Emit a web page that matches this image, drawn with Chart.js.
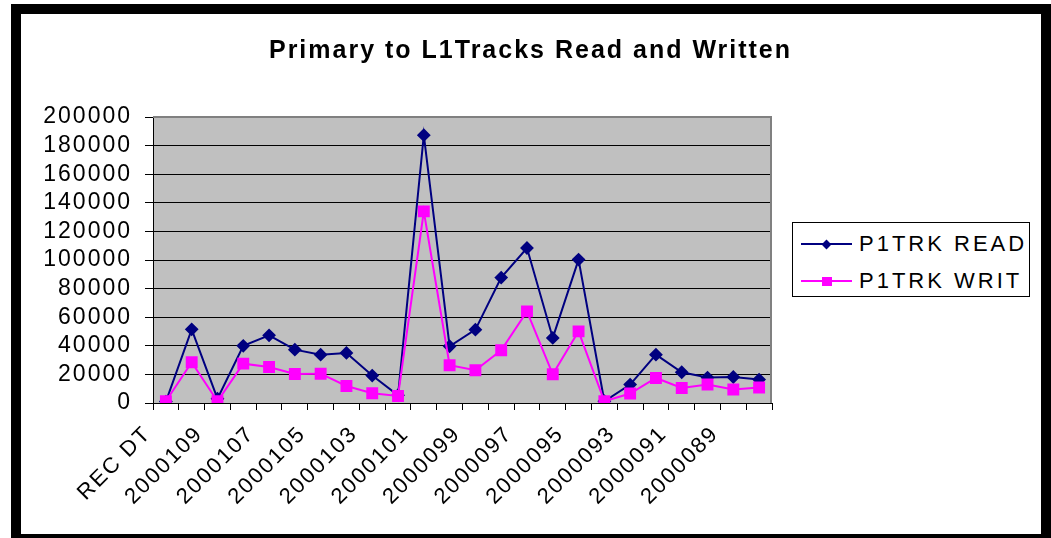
<!DOCTYPE html>
<html>
<head>
<meta charset="utf-8">
<script src="https://cdn.jsdelivr.net/npm/chart.js@4/dist/chart.umd.min.js"></script>
<style>
html, body { margin: 0; padding: 0; background: #fff; }
#wrap { position: relative; width: 1051px; height: 538px; overflow: hidden; }
#frame { position: absolute; left: 11px; top: 4px; width: 1020px; height: 520px; border: 10px solid #000; background: #fff; }
#c { position: absolute; left: 0; top: 0; }
#legend { position: absolute; left: 792px; top: 222px; width: 236px; height: 73px; border: 1px solid #000; background: #fff;
  font-family: 'Liberation Sans', Arial, sans-serif; font-size: 22px; letter-spacing: 3px; color: #000; }
.row { position: absolute; left: 0; width: 100%; height: 0; }
.row .ln { position: absolute; left: 8px; width: 51px; height: 2px; top: -1px; }
.row .mk { position: absolute; }
.row .tx { position: absolute; left: 66px; top: -12px; line-height: 24px; white-space: nowrap; }
</style>
</head>
<body>
<div id="wrap">
  <div id="frame"></div>
  <canvas id="c" width="1051" height="538"></canvas>
  <div id="legend"></div>
</div>
<script>
var labels = ['REC DT', '2000110', '2000109', '2000108', '2000107', '2000106', '2000105', '2000104',
  '2000103', '2000102', '2000101', '2000100', '2000099', '2000098', '2000097', '2000096',
  '2000095', '2000094', '2000093', '2000092', '2000091', '2000090', '2000089', '2000088'];
var read = [1000, 51500, 3000, 40000, 47300, 37300, 33800, 35000, 19200, 5400, 187300, 39700,
  51300, 87700, 108400, 45500, 100300, 1200, 12900, 33800, 21500, 17800, 18200, 16400];
var writ = [1200, 28500, 1200, 27500, 25200, 20300, 20500, 11900, 6800, 4900, 134000, 26400,
  22900, 36900, 64100, 20100, 50100, 1200, 6600, 17500, 10500, 12900, 9400, 10800];

const FONT = "'Liberation Sans', Arial, sans-serif";

// grey plot area, grey top/right edge, wider text like the original
const plotBg = {
    id: 'plotBg',
    beforeUpdate(chart) { chart.ctx.letterSpacing = '2px'; },
    beforeDraw(chart) {
        const ctx = chart.ctx, a = chart.chartArea;
        ctx.letterSpacing = '2px';
        ctx.save();
        ctx.fillStyle = '#c0c0c0';
        ctx.fillRect(a.left, a.top, a.right - a.left, a.bottom - a.top);
        ctx.restore();
    },
    afterDraw(chart) {
        const ctx = chart.ctx, a = chart.chartArea;
        ctx.save();
        ctx.strokeStyle = '#808080';
        ctx.lineWidth = 2;
        ctx.beginPath();
        ctx.moveTo(a.left, a.top);
        ctx.lineTo(a.right - 1, a.top);
        ctx.lineTo(a.right - 1, a.bottom);
        ctx.stroke();
        ctx.restore();
    }
};

const ctx = document.getElementById('c').getContext('2d');
var chart = new Chart(ctx, {
    type: 'line',
    data: {
        labels: labels,
        datasets: [
            {
                label: 'P1TRK READ',
                data: read,
                borderColor: '#000080',
                backgroundColor: '#000080',
                borderWidth: 2,
                pointStyle: 'rectRot',
                pointRadius: 5.5,
                tension: 0,
                order: 1
            },
            {
                label: 'P1TRK WRIT',
                data: writ,
                borderColor: '#ff00ff',
                backgroundColor: '#ff00ff',
                borderWidth: 2,
                pointStyle: 'rect',
                pointRadius: 7,
                tension: 0,
                order: 0
            }
        ]
    },
    options: {
        responsive: false,
        animation: false,
        layout: { padding: { left: 31, right: 21, top: 36, bottom: 13 } },
        plugins: {
            legend: { display: false },
            tooltip: { enabled: false },
            title: {
                display: true,
                text: 'Primary to L1Tracks Read and Written',
                color: '#000',
                font: { family: FONT, size: 25, weight: 'bold' },
                padding: { top: 0, bottom: 51 }
            }
        },
        scales: {
            x: {
                offset: true,
                grid: { offset: true, drawOnChartArea: false, color: '#000', tickLength: 7 },
                border: { display: true, color: '#000', width: 1 },
                ticks: {
                    autoSkip: false,
                    maxRotation: 45,
                    minRotation: 45,
                    labelOffset: -18,
                    padding: 11,
                    color: '#000',
                    font: { family: FONT, size: 22 },
                    callback: function(v, i) { return i % 2 === 0 ? labels[i] : ''; }
                },
                afterFit: function(s) { s.height = 122; }
            },
            y: {
                min: 0,
                max: 200000,
                grid: { color: '#000', lineWidth: 1, tickLength: 8 },
                border: { display: true, color: '#000', width: 1 },
                ticks: {
                    autoSkip: false,
                    stepSize: 20000,
                    padding: 13,
                    color: '#000',
                    font: { family: FONT, size: 23 },
                    callback: function(v) { return String(v); }
                },
                afterFit: function(s) { s.width = 122; }
            },
            // empty right axis: leaves room for the legend
            yRight: {
                position: 'right',
                display: true,
                grid: { display: false },
                border: { display: false },
                ticks: { display: false },
                afterFit: function(s) { s.width = 258; }
            }
        }
    },
    plugins: [plotBg]
});

// legend built from the chart datasets
var legend = document.getElementById('legend');
var rowY = [21, 58];
chart.data.datasets.forEach(function(ds, i) {
    var row = document.createElement('div');
    row.className = 'row';
    row.style.top = rowY[i] + 'px';
    var ln = document.createElement('span');
    ln.className = 'ln';
    ln.style.background = ds.borderColor;
    var mk = document.createElement('span');
    mk.className = 'mk';
    mk.style.background = ds.backgroundColor;
    if (ds.pointStyle === 'rectRot') {
        mk.style.width = '7px'; mk.style.height = '7px';
        mk.style.left = '30px'; mk.style.top = '-3.5px';
        mk.style.transform = 'rotate(45deg)';
    } else {
        mk.style.width = '10px'; mk.style.height = '9px';
        mk.style.left = '29px'; mk.style.top = '-4.5px';
    }
    var tx = document.createElement('span');
    tx.className = 'tx';
    tx.textContent = ds.label;
    row.appendChild(ln);
    row.appendChild(mk);
    row.appendChild(tx);
    legend.appendChild(row);
});
</script>
</body>
</html>
